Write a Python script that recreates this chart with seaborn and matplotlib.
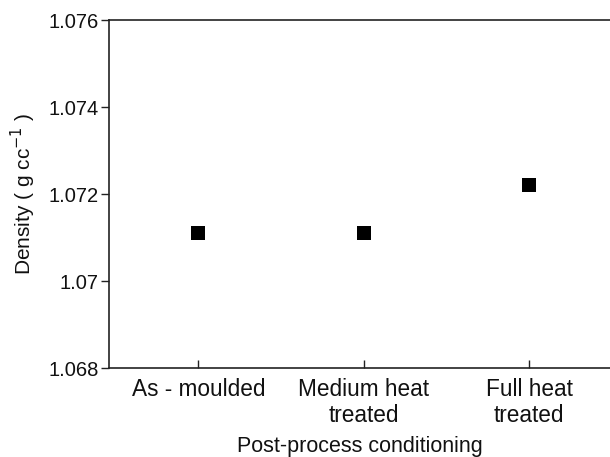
import matplotlib
matplotlib.use("Agg")
import matplotlib.pyplot as plt
import seaborn as sns
import pandas as pd

categories = ["As - moulded", "Medium heat\ntreated", "Full heat\ntreated"]
density = [1.0711, 1.0711, 1.0722]
ytick_values = [1.068, 1.07, 1.072, 1.074, 1.076]
ytick_labels = ["1.068", "1.07", "1.072", "1.074", "1.076"]

sns.set_theme(style="white")
plt.rcParams['font.family'] = ['Liberation Sans', 'DejaVu Sans']

df = pd.DataFrame({"pos": range(len(categories)), "density": density})

fig = plt.figure(figsize=(6.1, 4.57), dpi=100)
ax = fig.add_axes([0.1787, 0.1947, 0.8213, 0.7615])
sns.scatterplot(data=df, x="pos", y="density", marker="s", s=112, color="black",
                edgecolor="black", linewidth=0, ax=ax, legend=False)

ax.set_xlim(-0.54, 2.49)
ax.set_ylim(1.068, 1.076)
ax.set_xticks(range(len(categories)))
ax.set_xticklabels(categories, fontsize=16.3, color="#111111", linespacing=1.2)
ax.set_yticks(ytick_values)
ax.set_yticklabels(ytick_labels, fontsize=14.5, color="#111111")
ax.tick_params(axis="x", direction="in", length=6, width=1, color="#222222", pad=7)
ax.tick_params(axis="y", direction="out", length=6, width=1, color="#222222", pad=1.5)
ax.tick_params(left=True, bottom=True)

for side in ["left", "top", "bottom"]:
    ax.spines[side].set_color("#222222")
    ax.spines[side].set_linewidth(1.2)
ax.spines["right"].set_visible(False)

ax.set_xlabel("Post-process conditioning", fontsize=15.5, color="#111111", labelpad=6)
ax.set_ylabel("Density ( g cc$^{-1}$ )", fontsize=15, color="#111111", labelpad=7)

fig.savefig("out.png", dpi=100)
